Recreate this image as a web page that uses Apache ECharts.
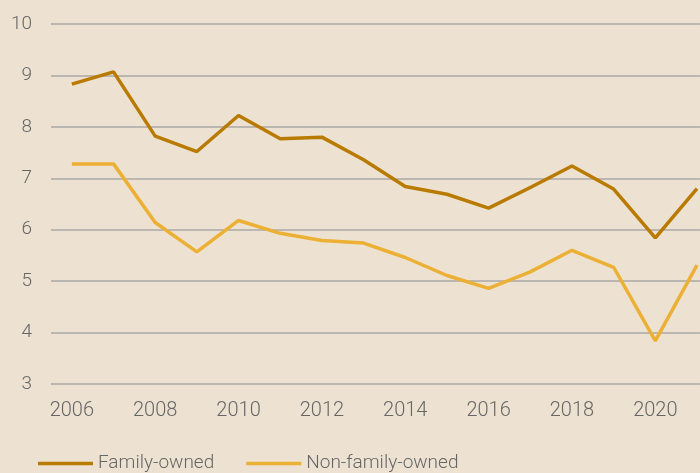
<!DOCTYPE html>
<html>
<head>
<meta charset="utf-8">
<script src="https://cdn.jsdelivr.net/npm/echarts@6/dist/echarts.min.js"></script>
<style>
  html, body { margin: 0; padding: 0; background: #ede2d1; }
  #chart { width: 700px; height: 473px; }
</style>
</head>
<body>
<div id="chart"></div>
<script>
// data
const years = [2006, 2007, 2008, 2009, 2010, 2011, 2012, 2013, 2014, 2015, 2016, 2017, 2018, 2019, 2020, 2021];
const familyOwned = [8.83, 9.07, 7.82, 7.52, 8.22, 7.77, 7.80, 7.36, 6.84, 6.69, 6.42, 6.82, 7.24, 6.79, 5.84, 6.80];
const nonFamilyOwned = [7.28, 7.28, 6.14, 5.57, 6.18, 5.93, 5.79, 5.74, 5.46, 5.11, 4.86, 5.18, 5.60, 5.27, 3.84, 5.31];
const seriesNames = ["Family-owned", "Non-family-owned"];

const toPairs = (vals) => vals.map((v, i) => [years[i], v]);

const chart = echarts.init(document.getElementById("chart"));
const textStyle = { fontFamily: "Roboto", fontWeight: 300, fontSize: 19, color: "#666" };

chart.setOption({
  backgroundColor: "#ede2d1",
  animation: false,
  color: ["#b97a00", "#ebb034"],
  grid: { left: 51, right: 0, top: 24, bottom: 89 },
  legend: {
    left: 38,
    top: 454,
    padding: 0,
    itemWidth: 55,
    itemHeight: 3.5,
    itemGap: 32,
    icon: "rect",
    textStyle: textStyle,
    data: seriesNames
  },
  xAxis: {
    type: "value",
    min: 2005.5,
    max: 2021.07,
    interval: 0.5,
    axisLine: { show: false },
    axisTick: { show: false },
    splitLine: { show: false },
    axisLabel: Object.assign({}, textStyle, {
      fontSize: 20,
      margin: 17,
      showMinLabel: true,
      showMaxLabel: false,
      formatter: (v) => (Number.isInteger(v) && v % 2 === 0 ? String(v) : "")
    })
  },
  yAxis: {
    type: "value",
    min: 3,
    max: 10,
    interval: 1,
    axisLine: { show: false },
    axisTick: { show: false },
    splitLine: { lineStyle: { color: "#aaa8a4", width: 1.5 } },
    axisLabel: Object.assign({}, textStyle, { margin: 19 })
  },
  series: [
    {
      name: seriesNames[0],
      type: "line",
      data: toPairs(familyOwned),
      showSymbol: false,
      lineStyle: { width: 3.5 }
    },
    {
      name: seriesNames[1],
      type: "line",
      data: toPairs(nonFamilyOwned),
      showSymbol: false,
      lineStyle: { width: 3.5 }
    }
  ]
});
</script>
</body>
</html>
